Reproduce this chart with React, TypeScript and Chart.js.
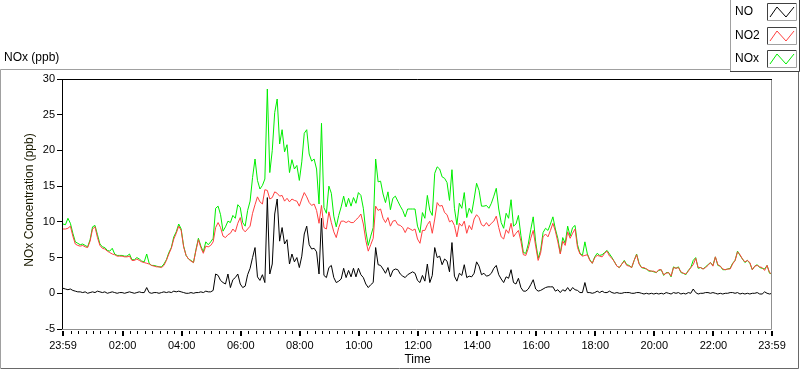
import React, { useEffect, useRef } from "react";
import { Chart, registerables } from "chart.js";

Chart.register(...registerables);

// Sampling step (minutes after 23:59 of previous day)
const STEP_MIN = 5;

const X_TICK_MINUTES = [0, 121, 241, 361, 481, 601, 721, 841, 961, 1081, 1201, 1321, 1440];
const X_TICK_LABELS = ["23:59", "02:00", "04:00", "06:00", "08:00", "10:00", "12:00", "14:00", "16:00", "18:00", "20:00", "22:00", "23:59"];
const Y_TICKS = [-5, 0, 5, 10, 15, 20, 25, 30];

const SERIES_NAMES = ["NO", "NO2", "NOx"];

const NO = [
  0.7, 0.6, 0.5, 0.6, 0.4, 0.3, 0.2, 0.2, 0.1, 0.2, 0.0, 0.1,
  0.2, 0.1, 0.3, 0.2, 0.1, 0.2, 0.0, 0.1, 0.2, 0.1, 0.0, 0.1,
  0.1, 0.0, 0.1, 0.2, 0.1, 0.0, 0.1, 0.2, 0.1, 0.1, 0.8, 0.1,
  0.0, 0.1, 0.1, 0.0, 0.1, 0.2, 0.1, 0.2, 0.1, 0.3, 0.2, 0.3,
  0.2, 0.1, 0.0, 0.0, 0.1, 0.0, 0.1, 0.1, 0.2, 0.1, 0.3, 0.2,
  0.2, 0.4, 2.7, 2.5, 1.8, 1.5, 1.3, 2.7, 0.8, 1.9, 2.2, 2.7,
  1.3, 0.8, 1.0, 2.6, 3.5, 5.0, 6.4, 2.3, 1.8, 2.6, 1.5, 13.4,
  2.7, 4.1, 11.1, 13.2, 7.3, 9.2, 6.9, 7.5, 4.1, 5.5, 4.4, 5.0,
  3.6, 5.2, 8.3, 9.4, 6.8, 6.2, 6.3, 5.8, 2.7, 10.5, 2.5, 2.2,
  3.6, 3.9, 2.2, 1.5, 1.7, 2.0, 3.5, 2.2, 3.2, 2.3, 3.5, 2.3,
  3.5, 2.6, 2.2, 1.3, 0.8, 1.2, 1.5, 6.4, 4.0, 3.9, 3.4, 2.8,
  3.6, 2.3, 3.2, 3.4, 3.3, 2.7, 2.4, 2.2, 2.6, 2.8, 3.0, 2.8,
  1.8, 1.5, 2.5, 1.7, 4.1, 1.5, 2.5, 6.4, 5.0, 5.2, 4.0, 4.8,
  4.5, 3.0, 7.1, 2.4, 1.7, 2.8, 2.5, 4.0, 2.2, 2.4, 2.3, 2.8,
  4.4, 3.8, 2.6, 2.8, 2.4, 2.5, 2.8, 3.5, 3.9, 2.6, 2.0, 1.5,
  2.3, 2.1, 3.3, 1.5, 1.3, 2.1, 0.8, 0.3, 0.3, 0.6, 1.2, 1.9,
  0.6, 0.3, 0.4, 0.6, 0.8, 0.9, 0.9, 0.9, 0.3, 0.5, 0.1, 0.5,
  0.3, 0.8, 0.3, 0.8, 0.5, 0.4, 0.1, 0.1, 1.5, 0.1, 0.1, 0.0,
  0.1, 0.3, 0.1, 0.3, 0.1, 0.1, 0.3, 0.1, 0.0, 0.1, 0.0, 0.0,
  0.1, 0.1, 0.1, 0.0, 0.0, 0.1, 0.1, 0.0, -0.1, 0.0, -0.1, 0.0,
  -0.1, 0.0, -0.1, 0.0, -0.1, 0.1, 0.0, -0.1, 0.1, 0.0, 0.1, -0.1,
  0.0, -0.1, 0.1, 0.0, 0.6, 0.1, -0.1, 0.0, 0.0, 0.1, 0.1, 0.0,
  0.1, 0.0, -0.1, 0.0, -0.1, 0.0, 0.0, 0.1, 0.1, 0.0, 0.1, -0.1,
  0.0, -0.1, 0.0, -0.1, 0.0, 0.0, 0.1, -0.1, -0.1, 0.2, 0.0, -0.1,
  0.0,
];

const NO2 = [
  9.0, 9.0, 9.1, 9.4, 8.0, 6.9, 6.7, 6.6, 6.7, 6.5, 6.4, 7.3,
  9.0, 9.3, 7.8, 6.7, 6.3, 6.2, 5.9, 5.7, 5.5, 5.4, 5.2, 5.2,
  5.2, 5.1, 5.1, 5.2, 4.6, 4.6, 4.8, 4.6, 4.4, 4.3, 4.2, 4.1,
  3.9, 3.8, 3.7, 3.7, 3.6, 3.9, 4.6, 5.5, 6.3, 7.6, 8.4, 9.4,
  8.8, 6.5, 5.3, 4.8, 4.5, 4.3, 6.0, 7.5, 6.4, 5.6, 6.6, 6.5,
  6.7, 7.2, 9.2, 9.9, 9.2, 8.0, 7.8, 8.2, 8.4, 9.0, 8.6, 9.8,
  10.6, 9.0, 8.6, 9.0, 9.4, 11.2, 12.4, 13.5, 12.8, 12.5, 14.5, 14.4,
  13.2, 13.4, 14.2, 14.0, 13.6, 13.7, 12.9, 13.3, 12.8, 13.2, 13.0, 12.9,
  12.2, 13.2, 14.1, 13.5, 12.7, 12.3, 12.5, 11.6, 9.8, 12.3, 9.2, 9.0,
  11.4, 9.9, 8.6, 7.8, 9.2, 10.1, 10.1, 9.9, 10.1, 9.9, 9.9, 10.3,
  10.6, 11.1, 9.7, 7.4, 5.9, 6.8, 7.7, 12.2, 11.6, 11.8, 10.5, 9.9,
  10.6, 9.4, 10.1, 10.2, 9.6, 9.5, 9.2, 8.5, 9.2, 9.0, 8.8, 9.0,
  7.6, 7.0, 8.8, 8.8, 9.6, 10.1, 8.4, 10.4, 12.7, 12.2, 12.3, 11.3,
  11.0, 10.0, 10.2, 9.5, 7.9, 9.8, 9.4, 10.1, 8.4, 9.5, 8.9, 10.4,
  11.0, 10.6, 9.6, 9.4, 9.9, 9.4, 9.8, 10.1, 10.8, 9.2, 7.9, 7.6,
  8.9, 8.4, 9.8, 7.9, 8.4, 8.8, 7.3, 5.4, 5.3, 6.3, 7.7, 8.8,
  6.6, 4.6, 5.6, 7.9, 8.3, 7.9, 8.8, 9.8, 8.7, 7.2, 5.5, 7.3,
  6.7, 8.6, 7.7, 8.4, 9.0, 6.4, 5.5, 5.2, 5.3, 5.4, 4.6, 4.2,
  5.0, 5.3, 5.2, 5.1, 5.6, 5.9, 5.2, 4.9, 4.4, 3.8, 3.6, 4.1,
  4.5, 3.9, 3.8, 3.6, 4.6, 5.4, 4.1, 3.6, 3.6, 3.4, 3.2, 3.1,
  3.1, 2.9, 3.3, 3.3, 2.6, 2.8, 2.9, 2.4, 3.6, 3.5, 3.6, 3.0,
  2.8, 2.7, 3.1, 3.6, 4.0, 4.9, 3.6, 3.6, 3.4, 3.6, 3.9, 4.3,
  3.8, 5.1, 4.0, 3.8, 3.4, 3.3, 3.4, 3.4, 4.1, 4.6, 5.8, 5.4,
  4.8, 4.4, 4.6, 4.3, 3.3, 3.8, 3.9, 3.7, 3.6, 3.2, 3.9, 2.9,
  2.7,
];

const NOX = [
  9.7, 9.6, 10.5, 9.8, 8.4, 7.2, 7.0, 6.8, 6.9, 6.7, 6.5, 7.5,
  9.3, 9.5, 8.2, 6.9, 6.5, 6.4, 6.0, 5.9, 6.3, 5.5, 5.3, 5.3,
  5.3, 5.2, 5.2, 5.5, 4.7, 4.7, 5.0, 4.8, 4.5, 4.4, 5.5, 4.2,
  3.9, 3.9, 3.8, 3.7, 3.7, 4.1, 4.7, 5.7, 6.4, 7.9, 8.6, 9.7,
  9.0, 6.6, 5.3, 4.8, 4.6, 4.3, 6.1, 7.7, 6.6, 5.8, 7.2, 6.8,
  7.2, 7.7, 11.9, 12.2, 11.0, 8.7, 9.3, 10.1, 9.9, 10.9, 10.5, 12.4,
  12.0, 9.9, 9.4, 11.6, 12.9, 16.2, 18.8, 15.8, 14.6, 15.1, 16.0, 28.6,
  16.9, 20.0, 25.3, 27.2, 20.9, 22.9, 19.8, 20.8, 16.9, 18.7, 17.4, 17.9,
  15.8, 18.4, 22.4, 22.9, 19.5, 18.5, 18.8, 17.4, 12.5, 23.8, 12.0, 11.2,
  15.0, 14.0, 10.8, 9.3, 10.9, 12.1, 13.6, 12.1, 13.3, 12.2, 13.4, 12.6,
  14.1, 13.7, 11.9, 8.7, 6.7, 8.0, 9.2, 18.8, 15.6, 15.7, 13.9, 12.7,
  14.2, 11.7, 13.3, 13.6, 12.9, 12.2, 11.6, 10.7, 11.8, 11.8, 11.8, 11.8,
  9.4, 8.5, 11.3, 10.5, 13.7, 11.6, 10.9, 16.8, 17.7, 17.4, 16.3, 16.1,
  15.5, 13.0, 17.3, 11.9, 9.6, 12.6, 11.9, 14.1, 10.6, 11.9, 11.2, 13.2,
  15.4, 14.4, 12.2, 12.2, 12.3, 11.9, 12.6, 13.6, 14.7, 11.8, 9.9, 9.1,
  11.2, 10.5, 13.1, 9.4, 9.7, 10.9, 8.1, 5.7, 5.6, 6.9, 8.9, 10.7,
  7.2, 4.9, 6.0, 8.5, 9.1, 8.8, 9.7, 10.7, 9.0, 7.7, 5.6, 7.8,
  7.0, 9.4, 8.0, 9.2, 9.5, 6.8, 5.6, 5.3, 7.2, 5.5, 4.7, 4.2,
  5.1, 5.6, 5.3, 5.4, 5.7, 6.0, 5.5, 5.0, 4.4, 3.8, 3.6, 4.1,
  4.6, 4.0, 3.9, 3.6, 4.6, 5.5, 4.2, 3.6, 3.5, 3.4, 3.1, 3.1,
  3.0, 2.9, 3.2, 3.3, 2.5, 2.9, 2.9, 2.3, 3.7, 3.5, 3.7, 2.9,
  2.8, 2.6, 3.2, 3.6, 4.6, 5.0, 3.5, 3.6, 3.4, 3.7, 4.0, 4.3,
  3.9, 5.1, 3.9, 3.8, 3.3, 3.3, 3.4, 3.5, 4.2, 4.6, 5.9, 5.3,
  4.8, 4.3, 4.6, 4.2, 3.3, 3.8, 4.0, 3.6, 3.5, 3.4, 3.9, 2.8,
  2.7,
];

const FONT = '"Liberation Sans", Arial, sans-serif';
const COLORS = ["#000000", "#ff4040", "#00ee00"];

const toPoints = (arr: number[]) => arr.map((v, i) => ({ x: i * STEP_MIN, y: v }));

const decorPlugin = {
  id: "decor",
  beforeDraw(chart: any) {
    const ctx = chart.ctx as CanvasRenderingContext2D;
    const W = chart.width;
    const H = chart.height;
    ctx.save();
    ctx.fillStyle = "#ffffff";
    ctx.fillRect(0, 0, W, H);

    // outer frame
    ctx.lineWidth = 1;
    ctx.strokeStyle = "#a0a0a0";
    ctx.beginPath();
    ctx.moveTo(0.5, 368);
    ctx.lineTo(0.5, 69.5);
    ctx.lineTo(798, 69.5);
    ctx.stroke();
    ctx.strokeStyle = "#696969";
    ctx.beginPath();
    ctx.moveTo(798.5, 69.5);
    ctx.lineTo(798.5, 368.5);
    ctx.lineTo(0.5, 368.5);
    ctx.stroke();

    // legend box
    ctx.fillStyle = "#ffffff";
    ctx.fillRect(730, 0, 70, 72);
    ctx.strokeStyle = "#a0a0a0";
    ctx.beginPath();
    ctx.moveTo(730.5, 72);
    ctx.lineTo(730.5, 0);
    ctx.stroke();
    ctx.strokeStyle = "#404040";
    ctx.beginPath();
    ctx.moveTo(730, 71.5);
    ctx.lineTo(799.5, 71.5);
    ctx.lineTo(799.5, 0);
    ctx.stroke();

    const rowsY = [3, 26.5, 50];
    ctx.font = "12px " + FONT;
    ctx.textBaseline = "middle";
    ctx.textAlign = "left";
    SERIES_NAMES.forEach((name, i) => {
      const y0 = Math.round(rowsY[i]);
      ctx.fillStyle = "#000";
      ctx.fillText(name, 735, y0 + 9);
      // swatch box
      const bx = 767, bw = 29, bh = 17;
      ctx.strokeStyle = "#404040";
      ctx.beginPath();
      ctx.moveTo(bx + 0.5, y0 + bh);
      ctx.lineTo(bx + 0.5, y0 + 0.5);
      ctx.lineTo(bx + bw, y0 + 0.5);
      ctx.stroke();
      ctx.strokeStyle = "#a0a0a0";
      ctx.beginPath();
      ctx.moveTo(bx + bw + 0.5, y0);
      ctx.lineTo(bx + bw + 0.5, y0 + bh + 0.5);
      ctx.lineTo(bx, y0 + bh + 0.5);
      ctx.stroke();
      // zigzag
      ctx.strokeStyle = COLORS[i];
      ctx.beginPath();
      ctx.moveTo(bx + 3, y0 + 14);
      ctx.lineTo(bx + 10, y0 + 4);
      ctx.lineTo(bx + 19, y0 + 14);
      ctx.lineTo(bx + 27, y0 + 4);
      ctx.stroke();
    });

    // chart caption
    ctx.fillStyle = "#000";
    ctx.font = "12px " + FONT;
    ctx.textAlign = "left";
    ctx.fillText("NOx (ppb)", 4, 58);

    // axis titles
    const area = chart.chartArea;
    ctx.textAlign = "center";
    ctx.fillText("Time", (area.left + area.right) / 2, 360);
    ctx.save();
    ctx.translate(30, 200);
    ctx.rotate(-Math.PI / 2);
    ctx.fillStyle = "#1a1a00";
    ctx.fillText("NOx Concentration (ppb)", 0, 0);
    ctx.restore();
    ctx.restore();
  },
  afterDraw(chart: any) {
    const ctx = chart.ctx as CanvasRenderingContext2D;
    const a = chart.chartArea;
    const xs = chart.scales.x;
    ctx.save();
    ctx.lineWidth = 1;
    // plot frame
    ctx.strokeStyle = "#000";
    ctx.beginPath();
    ctx.moveTo(a.left - 0.5, a.bottom);
    ctx.lineTo(a.left - 0.5, a.top + 0.5);
    ctx.lineTo(a.right, a.top + 0.5);
    ctx.stroke();
    ctx.strokeStyle = "#909090";
    ctx.beginPath();
    ctx.moveTo(a.right - 0.5, a.top + 1);
    ctx.lineTo(a.right - 0.5, a.bottom + 0.5);
    ctx.lineTo(a.left - 1, a.bottom + 0.5);
    ctx.stroke();
    // x tick marks
    ctx.fillStyle = "#000";
    for (let m = 16; m < 1440; m += 15) {
      if (X_TICK_MINUTES.includes(m)) continue;
      const px = Math.round(xs.getPixelForValue(m));
      ctx.fillRect(px, a.bottom + 2, 1, 3);
    }
    X_TICK_MINUTES.forEach((m) => {
      const px = Math.round(xs.getPixelForValue(m));
      ctx.fillRect(px - 1, a.bottom + 2, 2, 5);
    });
    ctx.restore();
  },
};

export default function App() {
  const ref = useRef<HTMLCanvasElement | null>(null);
  useEffect(() => {
    if (!ref.current) return;
    const datasets = [NO, NO2, NOX].map((arr, i) => ({
      label: SERIES_NAMES[i],
      data: toPoints(arr),
      borderColor: COLORS[i],
      backgroundColor: COLORS[i],
      borderWidth: 1,
      pointRadius: 0,
      tension: 0,
      fill: false,
    }));
    const chart = new Chart(ref.current, {
      type: "line",
      data: { datasets } as any,
      options: {
        responsive: false,
        animation: false,
        devicePixelRatio: 1,
        events: [],
        layout: { padding: { left: 0, top: 79, right: 28, bottom: 0 } },
        plugins: { legend: { display: false }, tooltip: { enabled: false }, title: { display: false } },
        scales: {
          x: {
            type: "linear",
            min: 0,
            max: 1440,
            grid: { display: false, drawTicks: false },
            border: { display: false },
            afterBuildTicks: (s: any) => {
              s.ticks = X_TICK_MINUTES.map((v) => ({ value: v }));
            },
            afterFit: (s: any) => {
              s.height = 40;
            },
            ticks: {
              autoSkip: false,
              maxRotation: 0,
              padding: 10,
              color: "#000",
              font: { family: FONT, size: 11 },
              callback: (v: any) => {
                const i = X_TICK_MINUTES.indexOf(Number(v));
                return i >= 0 ? X_TICK_LABELS[i] : "";
              },
            },
          },
          y: {
            min: -5,
            max: 30,
            grid: { drawOnChartArea: false, drawTicks: true, tickLength: 6, color: "#000" },
            border: { display: false },
            afterBuildTicks: (s: any) => {
              s.ticks = Y_TICKS.map((v) => ({ value: v }));
            },
            afterFit: (s: any) => {
              s.width = 63;
            },
            ticks: { padding: 2, color: "#000", font: { family: FONT, size: 11 } },
          },
        },
      } as any,
      plugins: [decorPlugin],
    });
    return () => chart.destroy();
  }, []);
  return (
    <div style={{ position: "absolute", left: 0, top: 0, width: 800, height: 369 }}>
      <canvas ref={ref} width={800} height={369} style={{ display: "block", width: 800, height: 369 }} />
    </div>
  );
}
